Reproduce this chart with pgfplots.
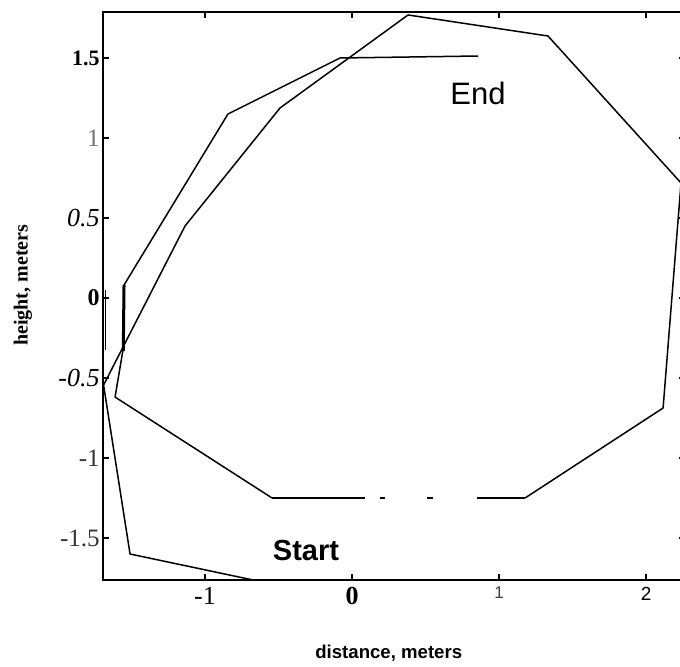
\documentclass[border=0pt]{standalone}
\usepackage{pgfplots}
\pgfplotsset{compat=1.18}
\usepackage{fontspec}
\setmainfont{Liberation Serif}
\newfontfamily\sansfont{Liberation Sans}

\newcommand{\fs}[1]{\fontsize{#1}{#1}\selectfont}

\begin{document}
\begin{tikzpicture}
\path[use as bounding box] (-51.5pt,-43pt) rectangle (288.5pt,290pt);
\begin{axis}[
  at={(0,0)}, anchor=south west,
  scale only axis, width=291pt, height=284pt,
  xmin=-1.694, xmax=2.265, ymin=-1.7625, ymax=1.7875,
  xtick={-1,0,1,2},
  xticklabels={{\fs{13}-1},{\fs{13}\bfseries 0},{\sansfont\fs{8.5}\color{black!75}1},{\sansfont\fs{9.5}2}},
  ytick={-1.5,-1,-0.5,0,0.5,1,1.5},
  yticklabels={{\fs{12.5}\color{black!80}-1.5},{\fs{12.5}\color{black!80}-1},{\fs{13}\itshape -0.5},{\fs{12}\bfseries 0},{\fs{13}\itshape 0.5},{\fs{12.5}\color{black!55}1},{\fs{11}\bfseries 1.5}},
  tick align=inside,
  major tick length=3pt,
  axis line style={line width=0.9pt},
  every tick/.style={black, line width=0.6pt},
  yticklabel style={inner xsep=1.5pt},
  xlabel={\sansfont\bfseries\fs{9.3}distance, meters},
  ylabel={\bfseries\fs{10}height, meters},
  xlabel style={at={(axis description cs:0.491,-0.1285)}, anchor=center},
  ylabel style={at={(axis description cs:-0.1375,0.519)}, anchor=center},
  clip=true,
]
% outbound leg: along the floor, up the left side, over the top and round the right
\addplot[black, line width=0.75pt, line join=round] coordinates {
  (1.0,-1.7625) (-0.673,-1.7625) (-1.510,-1.600) (-1.69,-0.544)
  (-1.136,0.450) (-0.490,1.1875) (0.381,1.769) (1.333,1.6375)
  (2.238,0.719) (2.116,-0.6875) (1.177,-1.25)};
% lower edge of the loop (broken trace)
\addplot[black, line width=0.75pt,
  dash pattern=on 46.5pt off 7.5pt on 2.5pt off 21pt on 3pt off 22pt on 30pt]
  coordinates {(-0.544,-1.25) (1.177,-1.25)};
% return leg up to the end point
\addplot[black, line width=0.75pt, line join=round] coordinates {
  (-0.544,-1.25) (-1.612,-0.619) (-1.558,-0.325) (-1.551,0.081)
  (-0.844,1.15) (-0.082,1.50) (0.857,1.5125)};
% vertical strokes at the wall
\addplot[black, line width=1.5pt] coordinates {(-1.556,-0.33) (-1.551,0.081)};
\addplot[black, line width=0.6pt] coordinates {(-1.678,-0.325) (-1.678,0.05)};

\node[font=\sansfont\fs{15.5}] at (axis cs:0.857,1.281) {End};
\node[font=\sansfont\bfseries\fs{14.5}] at (axis cs:-0.313,-1.581) {Start};
\end{axis}
\end{tikzpicture}
\end{document}
